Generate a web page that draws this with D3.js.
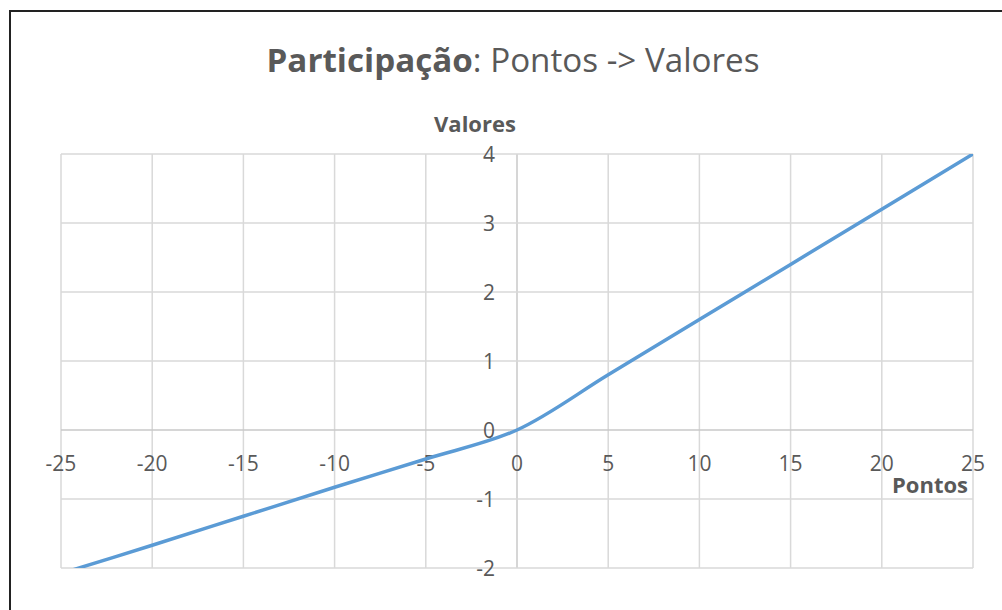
<!DOCTYPE html>
<html>
<head>
<meta charset="utf-8">
<script src="https://cdn.jsdelivr.net/npm/d3@7"></script>
<style>
  body { margin: 0; background: #fff; }
  text { font-family: "Open Sans", sans-serif; fill: #595959; }
</style>
</head>
<body>
<div id="chart"></div>
<script>
// data
var pontos  = [-25, -20, -15, -10, -5, 0, 5, 10, 15, 20, 25];
var valores = [-2.08, -1.67, -1.25, -0.83, -0.42, 0, 0.8, 1.6, 2.4, 3.2, 4];
var xTicks = [-25, -20, -15, -10, -5, 0, 5, 10, 15, 20, 25];
var yTicks = [-2, -1, 0, 1, 2, 3, 4];

const W = 1002, H = 610;
var plot = {left: 61, right: 973, top: 154, bottom: 568};

var svg = d3.select('#chart')
            .append('svg')
            .attr('width', W)
            .attr('height', H);

// outer frame (runs off the right / bottom edge of the shot)
svg.append('rect')
    .attr('x', 10).attr('y', 11)
    .attr('width', W + 20).attr('height', H + 20)
    .attr('fill', 'none')
    .attr('stroke', '#222')
    .attr('stroke-width', 2);

var x = d3.scaleLinear().domain([-25, 25]).range([plot.left, plot.right]);
var y = d3.scaleLinear().domain([-2, 4]).range([plot.bottom, plot.top]);

// gridlines
svg.append('g')
    .selectAll('line')
    .data(xTicks)
    .enter().append('line')
    .attr('x1', d => x(d)).attr('x2', d => x(d))
    .attr('y1', plot.top).attr('y2', plot.bottom)
    .attr('stroke', d => d === 0 ? '#c8c8c8' : '#d9d9d9')
    .attr('stroke-width', 1.5);

svg.append('g')
    .selectAll('line')
    .data(yTicks)
    .enter().append('line')
    .attr('x1', plot.left).attr('x2', plot.right)
    .attr('y1', d => y(d)).attr('y2', d => y(d))
    .attr('stroke', d => d === 0 ? '#c8c8c8' : '#d9d9d9')
    .attr('stroke-width', 1.5);

// tick labels sit along the axes through zero
svg.append('g')
    .selectAll('text')
    .data(xTicks)
    .enter().append('text')
    .attr('x', d => x(d))
    .attr('y', y(0) + 33)
    .attr('text-anchor', 'middle')
    .attr('dominant-baseline', 'central')
    .style('font-size', '21px')
    .text(d => d);

svg.append('g')
    .selectAll('text')
    .data(yTicks)
    .enter().append('text')
    .attr('x', x(0) - 22)
    .attr('y', d => y(d))
    .attr('text-anchor', 'end')
    .attr('dominant-baseline', 'central')
    .style('font-size', '21px')
    .text(d => d);

// the line, clipped to the plot area
svg.append('clipPath')
    .attr('id', 'plotClip')
    .append('rect')
    .attr('x', plot.left).attr('y', plot.top)
    .attr('width', plot.right - plot.left)
    .attr('height', plot.bottom - plot.top);

var line = d3.line()
    .x(d => x(d[0]))
    .y(d => y(d[1]))
    .curve(d3.curveCatmullRom.alpha(0.5));

svg.append('path')
    .datum(d3.zip(pontos, valores))
    .attr('d', line)
    .attr('clip-path', 'url(#plotClip)')
    .attr('fill', 'none')
    .attr('stroke', '#5b9bd5')
    .attr('stroke-width', 3.5)
    .attr('stroke-linecap', 'round');

// axis titles
svg.append('text')
    .attr('x', 475).attr('y', 132)
    .attr('text-anchor', 'middle')
    .style('font-size', '22px')
    .style('font-weight', 'bold')
    .text('Valores');

svg.append('text')
    .attr('x', 968).attr('y', 493)
    .attr('text-anchor', 'end')
    .style('font-size', '22px')
    .style('font-weight', 'bold')
    .text('Pontos');

// chart title
var title = svg.append('text')
    .attr('x', 513).attr('y', 72)
    .attr('text-anchor', 'middle')
    .style('font-size', '32px')
    .attr('textLength', 493)
    .attr('lengthAdjust', 'spacingAndGlyphs');
title.append('tspan').style('font-weight', 'bold').text('Participação');
title.append('tspan').text(': Pontos -> Valores');
</script>
</body>
</html>
